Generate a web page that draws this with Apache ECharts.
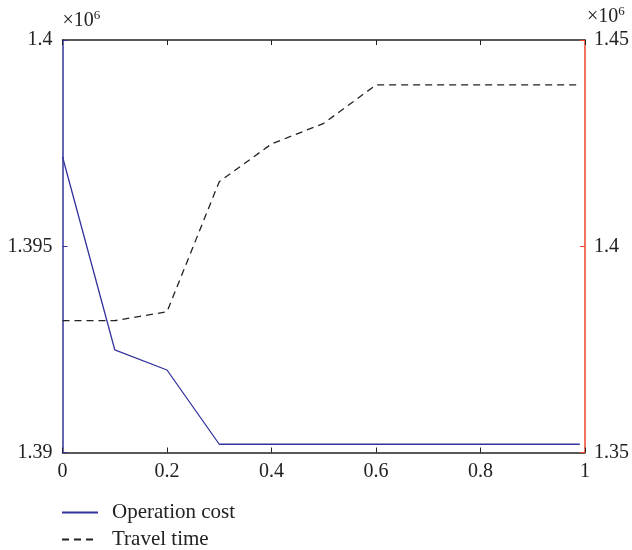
<!DOCTYPE html>
<html>
<head>
<meta charset="utf-8">
<script src="https://cdn.jsdelivr.net/npm/echarts@6/dist/echarts.min.js"></script>
<style>html,body{margin:0;padding:0;background:#fff}#c{width:632px;height:550px}</style>
</head>
<body>
<div id="c"></div>
<script>
const xValues = [0, 0.1, 0.2, 0.3, 0.4, 0.5, 0.6, 0.7, 0.8, 0.9, 0.99];
const operationCost = [1397170, 1392490, 1392000, 1390200, 1390200, 1390200, 1390200, 1390200, 1390200, 1390200, 1390200];
const travelTime = [1381950, 1381950, 1384130, 1415650, 1424800, 1429800, 1439100, 1439100, 1439100, 1439100, 1439100];
const seriesNames = ['Operation cost', 'Travel time'];
const xTicks = [0, 0.2, 0.4, 0.6, 0.8, 1];

const FONT = 'Liberation Serif';
const BLUE = '#33339e';
const RED = '#f0462e';
const INK = '#222';
const chart = echarts.init(document.getElementById('c'));
const fmt = v => String(Math.round(v / 1000) / 1000);
const nameRich = {
  a: { fontFamily: FONT, fontSize: 20, color: INK, align: 'left' },
  s: { fontFamily: FONT, fontSize: 13, color: INK, align: 'left', padding: [0, 0, 10, 0] }
};
chart.setOption({
  animation: false,
  textStyle: { fontFamily: FONT },
  grid: { left: 62.5, right: 46.5, top: 40, bottom: 97.5, containLabel: false },
  legend: {
    data: seriesNames,
    orient: 'vertical',
    left: 61, top: 502, padding: 0,
    itemWidth: 36, itemHeight: 12, itemGap: 6,
    itemStyle: { color: 'rgba(0,0,0,0)', borderWidth: 0, opacity: 0 },
    textStyle: { fontFamily: FONT, fontSize: 21, color: INK, padding: [0, 0, 0, 9] }
  },
  xAxis: [{
    type: 'value', min: 0, max: 1, interval: 0.2, position: 'bottom',
    axisLine: { onZero: false, lineStyle: { color: INK, width: 1.5 } },
    axisTick: { inside: true, length: 5, lineStyle: { color: INK } },
    axisLabel: { fontFamily: FONT, fontSize: 20, color: INK, margin: 9,
      formatter: v => xTicks.includes(Math.round(v * 10) / 10) ? String(Math.round(v * 10) / 10) : '' },
    splitLine: { show: false }
  }, {
    type: 'value', min: 0, max: 1, interval: 0.2, position: 'top',
    axisLine: { show: true, onZero: false, lineStyle: { color: INK, width: 1.5 } },
    axisTick: { inside: true, length: 5, lineStyle: { color: INK } },
    axisLabel: { show: false }, splitLine: { show: false }
  }],
  yAxis: [{
    type: 'value', min: 1390000, max: 1400000, interval: 5000, position: 'left',
    name: '{a|×10}{s|6}', nameLocation: 'end', nameGap: 8,
    nameTextStyle: { align: 'left', padding: [0, 0, 0, 0], rich: nameRich },
    axisLine: { show: true, onZero: false, lineStyle: { color: BLUE, width: 1.5 } },
    axisTick: { show: true, inside: true, length: 5, lineStyle: { color: BLUE } },
    axisLabel: { fontFamily: FONT, fontSize: 20, color: INK, margin: 10, formatter: fmt },
    splitLine: { show: false }
  }, {
    type: 'value', min: 1350000, max: 1450000, interval: 50000, position: 'right',
    name: '{a|×10}{s|6}', nameLocation: 'end', nameGap: 12,
    nameTextStyle: { align: 'left', padding: [0, 0, 0, 2], rich: nameRich },
    axisLine: { show: true, onZero: false, lineStyle: { color: RED, width: 1.5 } },
    axisTick: { show: true, inside: true, length: 5, lineStyle: { color: RED } },
    axisLabel: { fontFamily: FONT, fontSize: 20, color: INK, margin: 9, formatter: fmt },
    splitLine: { show: false }
  }],
  series: [{
    name: seriesNames[0], type: 'line', xAxisIndex: 0, yAxisIndex: 0,
    data: xValues.map((x, i) => [x, operationCost[i]]),
    symbol: 'none', lineStyle: { color: BLUE, width: 1.3 }, itemStyle: { color: BLUE }
  }, {
    name: seriesNames[1], type: 'line', xAxisIndex: 0, yAxisIndex: 1,
    data: xValues.map((x, i) => [x, travelTime[i]]),
    symbol: 'none', lineStyle: { color: INK, width: 1.3, type: [7, 5] }, itemStyle: { color: INK }
  }]
});
</script>
</body>
</html>
